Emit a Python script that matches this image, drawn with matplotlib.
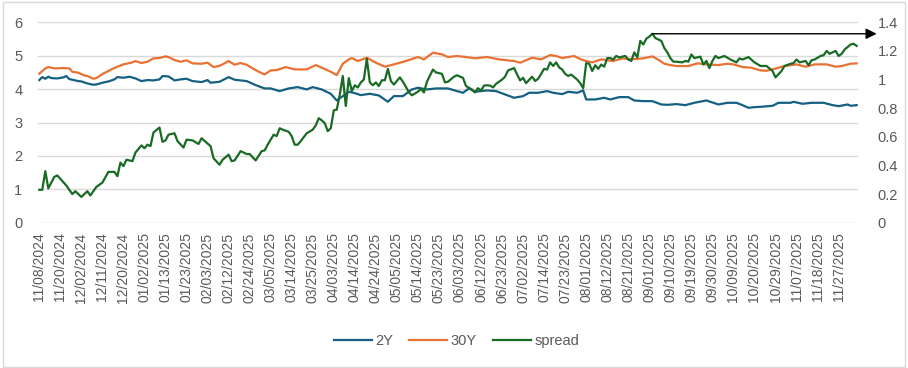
import matplotlib
matplotlib.use("Agg")
import matplotlib.pyplot as plt
from matplotlib.patches import Rectangle

plt.rcParams['font.family'] = ['Liberation Sans', 'DejaVu Sans']

# ---------------- data ----------------
n_days = 273  # trading days 11/08/2024 .. 12/05/2025
tick_step = 7
tick_labels = ["11/08/2024", "11/20/2024", "12/02/2024", "12/11/2024", "12/20/2024",
               "01/02/2025", "01/13/2025", "01/23/2025", "02/03/2025", "02/12/2025",
               "02/24/2025", "03/05/2025", "03/14/2025", "03/25/2025", "04/03/2025",
               "04/14/2025", "04/24/2025", "05/05/2025", "05/14/2025", "05/23/2025",
               "06/03/2025", "06/12/2025", "06/23/2025", "07/02/2025", "07/14/2025",
               "07/23/2025", "08/01/2025", "08/12/2025", "08/21/2025", "09/01/2025",
               "09/10/2025", "09/19/2025", "09/30/2025", "10/09/2025", "10/20/2025",
               "10/29/2025", "11/07/2025", "11/18/2025", "11/27/2025"]

y2_idx = [0, 1, 2, 3, 4, 6, 8, 9, 10, 11, 13, 14, 16, 18, 19, 21, 23, 25, 26, 28,
          30, 32, 34, 36, 38, 40, 41, 43, 45, 47, 49, 51, 54, 56, 57, 60, 63, 65, 66, 69,
          72, 75, 77, 80, 83, 86, 89, 91, 94, 97, 99, 101, 103, 105, 107, 110, 113, 116, 118, 121,
          124, 126, 129, 132, 136, 139, 141, 143, 145, 149, 152, 155, 158, 161, 163, 166, 169, 171, 174, 176,
          179, 181, 182, 185, 188, 190, 193, 196, 198, 201, 204, 207, 209, 212, 215, 218, 222, 224, 226, 229,
          232, 234, 236, 238, 240, 244, 246, 250, 251, 254, 257, 261, 264, 266, 269, 270, 272]
y2_val = [4.27, 4.36, 4.31, 4.37, 4.33, 4.32, 4.35, 4.39, 4.30, 4.28, 4.24, 4.23, 4.17, 4.13, 4.14, 4.19, 4.23, 4.29, 4.36, 4.34,
          4.37, 4.32, 4.24, 4.27, 4.26, 4.29, 4.39, 4.38, 4.26, 4.29, 4.31, 4.24, 4.21, 4.27, 4.19, 4.22, 4.36, 4.28, 4.27, 4.24,
          4.12, 4.02, 4.02, 3.94, 4.02, 4.06, 3.99, 4.06, 3.99, 3.86, 3.66, 3.79, 3.92, 3.88, 3.82, 3.86, 3.81, 3.62, 3.79, 3.79,
          3.99, 4.04, 3.99, 4.02, 4.02, 3.94, 3.89, 4.02, 3.92, 3.96, 3.94, 3.84, 3.74, 3.79, 3.89, 3.89, 3.94, 3.89, 3.85, 3.92,
          3.89, 3.96, 3.69, 3.69, 3.74, 3.69, 3.76, 3.76, 3.66, 3.64, 3.64, 3.54, 3.53, 3.55, 3.52, 3.59, 3.66, 3.60, 3.54, 3.59,
          3.59, 3.52, 3.44, 3.46, 3.47, 3.50, 3.59, 3.59, 3.62, 3.56, 3.59, 3.59, 3.52, 3.49, 3.54, 3.50, 3.52]

y30_idx = [0, 2, 3, 5, 8, 10, 11, 13, 15, 16, 18, 19, 21, 24, 26, 28, 31, 32, 34, 36,
           38, 40, 42, 43, 45, 47, 49, 51, 54, 56, 58, 60, 61, 63, 65, 67, 69, 71, 73, 75,
           77, 79, 82, 85, 89, 92, 93, 95, 97, 99, 101, 103, 104, 106, 109, 112, 115, 118, 122, 126,
           128, 131, 134, 136, 139, 142, 145, 149, 153, 158, 160, 164, 167, 170, 172, 174, 178, 180, 182, 184,
           187, 191, 194, 197, 201, 204, 206, 208, 210, 212, 216, 219, 222, 226, 229, 231, 234, 237, 240, 242,
           244, 248, 252, 255, 258, 262, 265, 267, 270, 272]
y30_val = [4.46, 4.62, 4.66, 4.62, 4.63, 4.62, 4.52, 4.49, 4.41, 4.39, 4.31, 4.33, 4.45, 4.59, 4.67, 4.74, 4.80, 4.84, 4.78, 4.82,
           4.92, 4.93, 4.98, 4.96, 4.87, 4.82, 4.86, 4.77, 4.76, 4.79, 4.66, 4.70, 4.74, 4.84, 4.73, 4.78, 4.73, 4.62, 4.52, 4.44,
           4.56, 4.57, 4.66, 4.59, 4.59, 4.72, 4.68, 4.60, 4.52, 4.42, 4.76, 4.89, 4.93, 4.84, 4.94, 4.79, 4.67, 4.74, 4.84, 4.96,
           4.89, 5.09, 5.04, 4.96, 4.99, 4.96, 4.92, 4.96, 4.89, 4.84, 4.79, 4.94, 4.89, 5.02, 4.99, 4.93, 4.99, 4.90, 4.84, 4.80,
           4.89, 4.84, 4.92, 4.89, 4.92, 4.98, 4.88, 4.76, 4.72, 4.69, 4.69, 4.77, 4.74, 4.72, 4.76, 4.74, 4.66, 4.64, 4.56, 4.55,
           4.59, 4.69, 4.74, 4.67, 4.74, 4.74, 4.67, 4.69, 4.76, 4.77]

spread_idx = [0, 1, 2, 3, 5, 6, 9, 11, 12, 14, 16, 17, 19, 21, 23, 25, 26, 27, 28, 29,
              31, 32, 34, 35, 36, 37, 38, 40, 41, 42, 43, 45, 46, 48, 49, 51, 53, 54, 57, 58,
              60, 61, 63, 64, 65, 67, 69, 70, 72, 74, 75, 76, 78, 79, 80, 81, 83, 84, 85, 86,
              87, 89, 91, 92, 93, 94, 95, 96, 97, 98, 99, 100, 101, 102, 103, 104, 105, 106, 107, 108,
              109, 110, 111, 112, 113, 114, 115, 116, 117, 118, 120, 121, 122, 123, 124, 126, 127, 128, 129, 131,
              132, 134, 135, 136, 138, 139, 141, 142, 144, 145, 146, 147, 148, 149, 150, 151, 152, 154, 155, 156,
              158, 159, 160, 161, 162, 164, 165, 166, 168, 169, 170, 171, 172, 173, 174, 175, 176, 177, 179, 180,
              181, 182, 183, 184, 185, 186, 187, 188, 189, 190, 191, 192, 193, 195, 196, 197, 198, 199, 200, 201,
              202, 203, 204, 205, 206, 207, 208, 209, 210, 211, 212, 214, 215, 216, 217, 218, 219, 220, 221, 222,
              223, 224, 225, 226, 228, 230, 232, 233, 234, 236, 238, 240, 242, 244, 245, 247, 248, 250, 251, 252,
              253, 255, 256, 257, 258, 260, 261, 262, 263, 264, 265, 266, 267, 268, 270, 271, 272]
spread_val = [0.23, 0.23, 0.36, 0.24, 0.32, 0.33, 0.26, 0.20, 0.22, 0.18, 0.22, 0.19, 0.25, 0.28, 0.355, 0.355, 0.325, 0.42, 0.395, 0.44,
              0.43, 0.49, 0.54, 0.52, 0.545, 0.535, 0.63, 0.665, 0.565, 0.575, 0.615, 0.625, 0.57, 0.525, 0.58, 0.575, 0.55, 0.59, 0.535, 0.45,
              0.405, 0.44, 0.475, 0.43, 0.435, 0.50, 0.48, 0.48, 0.435, 0.50, 0.505, 0.545, 0.615, 0.605, 0.66, 0.65, 0.635, 0.605, 0.545, 0.545,
              0.57, 0.625, 0.65, 0.68, 0.73, 0.715, 0.695, 0.64, 0.66, 0.785, 0.79, 0.895, 1.025, 0.815, 1.01, 0.92, 0.96, 0.945, 0.98, 1.00,
              1.145, 0.98, 0.96, 0.98, 0.955, 0.995, 0.995, 1.075, 0.99, 0.965, 1.015, 0.985, 0.95, 0.91, 0.89, 0.915, 0.935, 0.91, 0.985, 1.07,
              1.05, 1.04, 0.98, 0.985, 1.02, 1.03, 1.012, 0.955, 0.93, 0.91, 0.94, 0.923, 0.958, 0.96, 0.958, 0.945, 0.97, 1.00, 1.02, 1.064,
              1.08, 1.036, 0.994, 1.012, 0.975, 1.02, 0.99, 1.005, 1.075, 1.07, 1.12, 1.095, 1.12, 1.085, 1.07, 1.04, 1.025, 1.035, 1.00, 0.975,
              0.94, 1.115, 1.11, 1.06, 1.10, 1.075, 1.105, 1.09, 1.15, 1.15, 1.14, 1.165, 1.155, 1.165, 1.14, 1.13, 1.19, 1.155, 1.27, 1.245,
              1.285, 1.30, 1.32, 1.29, 1.28, 1.27, 1.22, 1.19, 1.15, 1.125, 1.125, 1.12, 1.13, 1.125, 1.175, 1.15, 1.155, 1.16, 1.105, 1.13,
              1.08, 1.13, 1.165, 1.15, 1.165, 1.14, 1.12, 1.148, 1.14, 1.157, 1.12, 1.095, 1.095, 1.06, 1.015, 1.06, 1.095, 1.11, 1.115, 1.14,
              1.12, 1.13, 1.10, 1.135, 1.14, 1.165, 1.17, 1.20, 1.18, 1.19, 1.20, 1.165, 1.18, 1.21, 1.245, 1.25, 1.235]

left_ticks = [0, 1, 2, 3, 4, 5, 6]
right_ticks = [0, 0.2, 0.4, 0.6, 0.8, 1.0, 1.2, 1.4]
right_tick_labels = ["0", "0.2", "0.4", "0.6", "0.8", "1", "1.2", "1.4"]

# ---------------- styling ----------------
c_2y = "#156082"
c_30y = "#E97132"
c_spread = "#196B24"
c_text = "#595959"
c_grid = "#D9D9D9"

fig = plt.figure(figsize=(9.08, 3.68), dpi=100)
fig.patches.append(Rectangle((0.003, 0.004), 0.994, 0.991, transform=fig.transFigure,
                             facecolor="none", edgecolor=c_grid, linewidth=1.0))

ax = fig.add_axes([0.0416, 0.3948, 0.9035, 0.5446])
ax2 = ax.twinx()

l1, = ax.plot(y2_idx, y2_val, color=c_2y, lw=1.6, label="2Y", zorder=3)
l2, = ax.plot(y30_idx, y30_val, color=c_30y, lw=1.6, label="30Y", zorder=3)
l3, = ax2.plot(spread_idx, spread_val, color=c_spread, lw=1.6, label="spread", zorder=3)

ax.set_xlim(-0.5, n_days - 0.5)
ax.set_ylim(0, 6)
ax2.set_ylim(0, 1.4)

ax.set_yticks(left_ticks)
ax.set_yticklabels([str(t) for t in left_ticks])
ax2.set_yticks(right_ticks)
ax2.set_yticklabels(right_tick_labels)

tick_pos = list(range(0, tick_step * len(tick_labels), tick_step))
ax.set_xticks(tick_pos)
ax.set_xticklabels(tick_labels, rotation=90)

ax.grid(axis="y", color=c_grid, lw=1.0, zorder=0)
ax.set_axisbelow(True)
for a in (ax, ax2):
    for s in a.spines.values():
        s.set_visible(False)
ax2.patch.set_visible(False)

ax.tick_params(axis="y", length=0, pad=11, labelsize=10.5, labelcolor=c_text)
ax.tick_params(axis="x", length=0, pad=7, labelsize=10, labelcolor=c_text)
ax2.tick_params(axis="y", length=0, pad=14, labelsize=10.5, labelcolor=c_text)

# arrow from spread peak to the right edge
pk = max(range(len(spread_val)), key=lambda i: spread_val[i])
ax2.annotate("", xy=(1.0225, spread_val[pk]), xycoords=("axes fraction", "data"),
             xytext=(spread_idx[pk], spread_val[pk]), textcoords="data",
             arrowprops=dict(arrowstyle="-|>", color="black", lw=1.0,
                             mutation_scale=16, shrinkA=0, shrinkB=0),
             annotation_clip=False, zorder=5)

fig.legend(handles=[l1, l2, l3], loc="center", bbox_to_anchor=(0.503, 0.074),
           ncol=3, frameon=False, fontsize=10.5, handlelength=2.6,
           handletextpad=0.25, columnspacing=1.1, labelcolor=c_text)

fig.savefig("out.png", dpi=100)
